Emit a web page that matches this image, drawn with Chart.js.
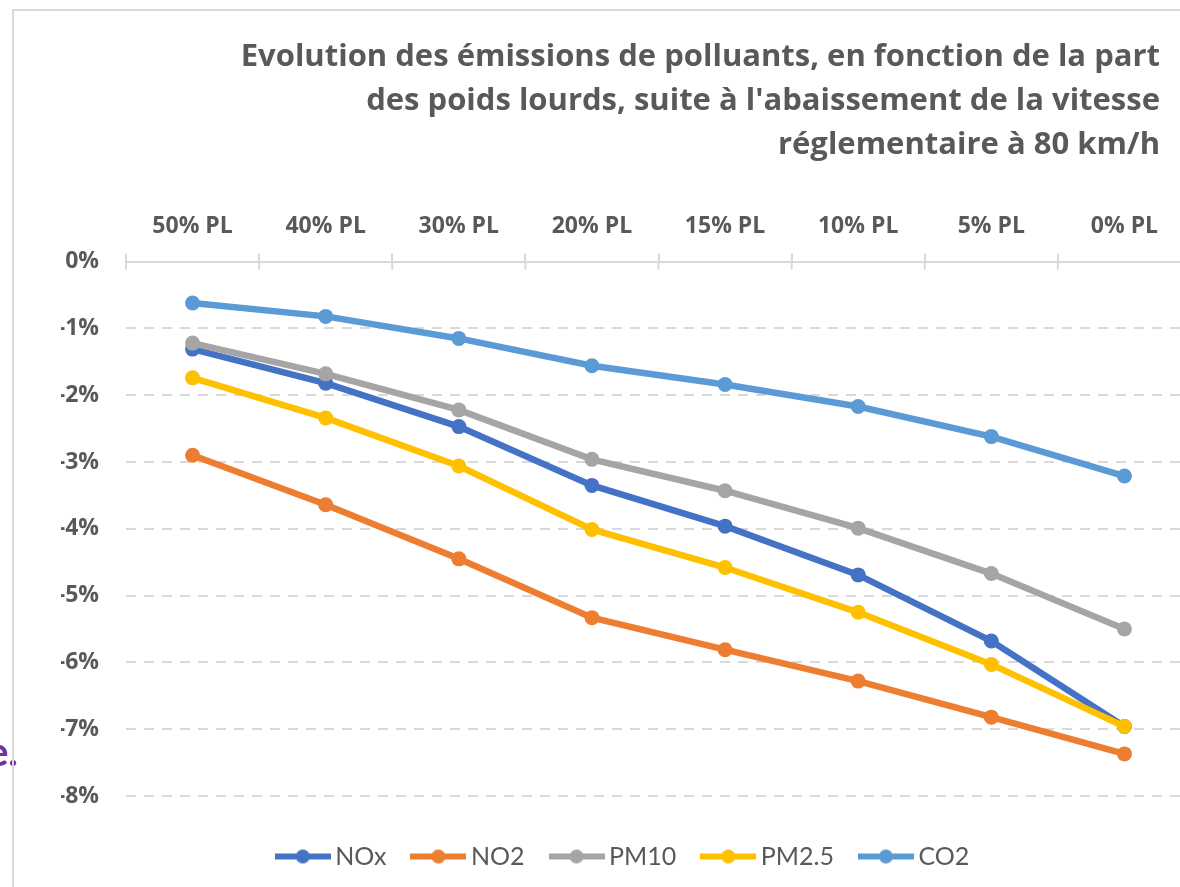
<!DOCTYPE html>
<html>
<head>
<meta charset="utf-8">
<script src="https://cdn.jsdelivr.net/npm/chart.js@4"></script>
<style>
    html, body { margin: 0; padding: 0; background: #fff; overflow: hidden; width: 1180px; height: 887px; }
    .frame { position: absolute; left: 12px; top: 9px; width: 1300px; height: 1000px; border: 2px solid #d9d9d9; box-sizing: border-box; }
    .box { position: absolute; left: 13px; top: 10px; width: 1200px; height: 877px; }
    .stray { position: absolute; left: -13px; top: 727px; font: bold 40px Lato, sans-serif; color: #7030a0; }
</style>
</head>
<body>
<div class="stray">e.</div>
<div class="frame"></div>
<div class="box"><canvas id="emissionsChart"></canvas></div>
<script>
const categories = ['50% PL', '40% PL', '30% PL', '20% PL', '15% PL', '10% PL', '5% PL', '0% PL'];
const seriesNames = ['NOx', 'NO2', 'PM10', 'PM2.5', 'CO2'];
const noxValues = [-1.31, -1.82, -2.47, -3.35, -3.96, -4.69, -5.68, -6.96];
const no2Values = [-2.90, -3.64, -4.45, -5.33, -5.81, -6.28, -6.82, -7.37];
const pm10Values = [-1.22, -1.68, -2.22, -2.96, -3.43, -3.99, -4.67, -5.50];
const pm25Values = [-1.74, -2.34, -3.06, -4.01, -4.58, -5.25, -6.03, -6.96];
const co2Values = [-0.62, -0.82, -1.15, -1.56, -1.84, -2.17, -2.62, -3.21];
const yMin = -8;
const yMax = 0;

const colors = ['#4472c4', '#ed7d31', '#a5a5a5', '#ffc000', '#5b9bd5'];
const allValues = [noxValues, no2Values, pm10Values, pm25Values, co2Values];
const textGrey = '#595959';

// petit symbole "ligne + point" façon Excel pour la légende
function legendSymbol(color) {
    const c = document.createElement('canvas');
    c.width = 56;
    c.height = 16;
    const ctx = c.getContext('2d');
    ctx.strokeStyle = color;
    ctx.lineWidth = 6;
    ctx.beginPath();
    ctx.moveTo(0, 8);
    ctx.lineTo(56, 8);
    ctx.stroke();
    ctx.fillStyle = color;
    ctx.beginPath();
    ctx.arc(28, 8, 7, 0, Math.PI * 2);
    ctx.fill();
    return c;
}

const datasets = seriesNames.map(function(name, i) {
    return {
        label: name,
        data: allValues[i],
        borderColor: colors[i],
        backgroundColor: colors[i],
        pointBackgroundColor: colors[i],
        pointBorderWidth: 0,
        pointRadius: 7.5,
        borderWidth: 6.5,
        tension: 0,
        order: seriesNames.length - i
    };
});

// décale le titre vers la gauche (aligné à droite, avant le bord du graphique)
const titleShift = {
    id: 'titleShift',
    afterLayout(chart) {
        if (chart.titleBlock) {
            chart.titleBlock.right -= 31;
        }
    }
};

// graduations de l'axe X qui traversent la ligne d'axe
const crossTicks = {
    id: 'crossTicks',
    afterDraw(chart) {
        const x = chart.scales.x;
        const top = chart.chartArea.top;
        const c = chart.ctx;
        c.save();
        c.strokeStyle = '#d9d9d9';
        c.lineWidth = 2;
        for (let i = 0; i <= categories.length; i++) {
            const px = x.getPixelForValue(i - 0.5);
            c.beginPath();
            c.moveTo(px, top);
            c.lineTo(px, top + 8);
            c.stroke();
        }
        c.restore();
    }
};

const ctx = document.getElementById('emissionsChart');
new Chart(ctx, {
    type: 'line',
    data: {
        labels: categories,
        datasets: datasets
    },
    plugins: [titleShift, crossTicks],
    options: {
        responsive: true,
        maintainAspectRatio: false,
        animation: false,
        layout: {
            padding: { left: 48, right: 22, top: 0, bottom: 8 }
        },
        plugins: {
            title: {
                display: true,
                align: 'end',
                text: [
                    'Evolution des émissions de polluants, en fonction de la part',
                    "des poids lourds, suite à l'abaissement de la vitesse",
                    'réglementaire à 80 km/h'
                ],
                color: textGrey,
                font: { family: 'Open Sans', size: 31, weight: 'bold', lineHeight: 44 / 31 },
                padding: { top: 25, bottom: 33 }
            },
            legend: {
                position: 'bottom',
                title: {
                    display: true,
                    text: ' ',
                    font: { size: 10, lineHeight: 1.2 },
                    padding: 2
                },
                labels: {
                    usePointStyle: true,
                    pointStyleWidth: 40,
                    padding: 32,
                    color: textGrey,
                    font: { family: 'Lato', size: 25 },
                    sort: function(a, b) { return a.datasetIndex - b.datasetIndex; },
                    generateLabels: function(chart) {
                        const items = Chart.defaults.plugins.legend.labels.generateLabels(chart);
                        items.forEach(function(item) {
                            item.pointStyle = legendSymbol(colors[item.datasetIndex]);
                        });
                        return items;
                    }
                }
            },
            tooltip: { enabled: false }
        },
        scales: {
            x: {
                position: 'top',
                offset: true,
                grid: {
                    offset: true,
                    drawOnChartArea: false,
                    drawTicks: true,
                    tickLength: 8,
                    color: '#d9d9d9',
                    lineWidth: 2
                },
                border: { display: true, color: '#d9d9d9', width: 2 },
                ticks: {
                    color: textGrey,
                    padding: 13,
                    maxRotation: 0,
                    font: { family: 'Open Sans', size: 23, weight: 'bold' }
                }
            },
            y: {
                min: yMin,
                max: yMax,
                afterFit: function(scale) { scale.width = 65; },
                grid: {
                    color: function(c) { return c.tick && c.tick.value === 0 ? 'rgba(0,0,0,0)' : '#d9d9d9'; },
                    lineWidth: 2,
                    drawTicks: false
                },
                border: { display: false, dash: [10, 8] },
                ticks: {
                    stepSize: 1,
                    padding: 27,
                    color: textGrey,
                    font: { family: 'Open Sans', size: 23, weight: 'bold' },
                    callback: function(value) { return value + '%'; }
                }
            }
        }
    }
});
</script>
</body>
</html>
